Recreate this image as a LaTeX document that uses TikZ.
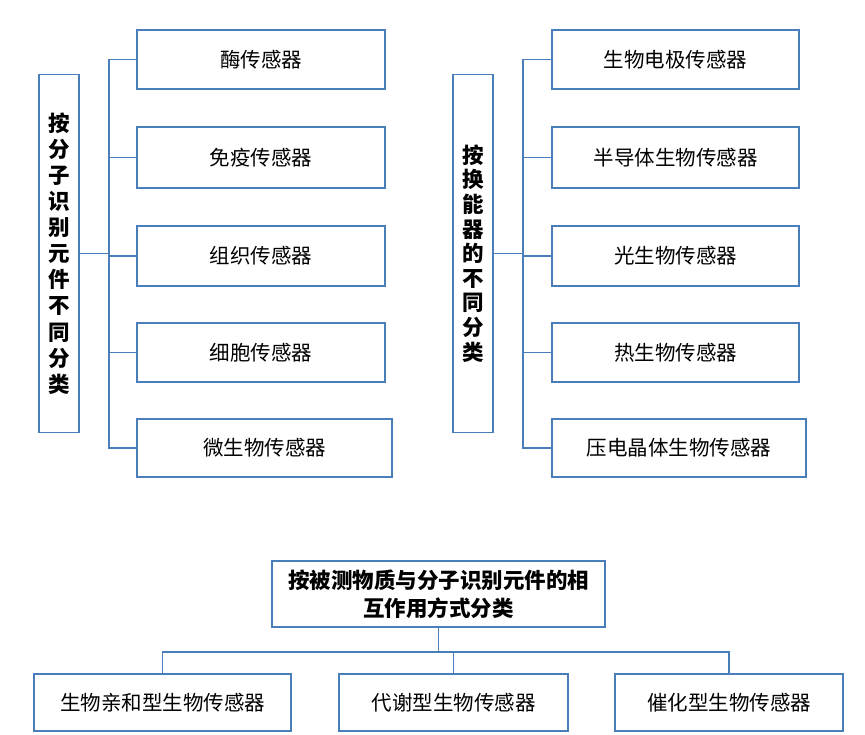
\documentclass[tikz,border=0pt]{standalone}
\usepackage{fontspec}
\setmainfont{Noto Sans CJK SC}
\definecolor{boxblue}{RGB}{74,126,187}
\tikzset{
  bx/.style={draw=boxblue, line width=1.5pt, fill=white, inner sep=0pt, minimum width=#1, anchor=center},
  child/.style={bx=248pt, minimum height=59pt, font=\fontsize{20.5}{24}\selectfont},
  cat/.style={bx=40pt, minimum height=358pt, align=center, font=\fontsize{21.5}{26.1}\selectfont\bfseries},
  conn/.style={draw=boxblue, line width=1.9pt}
}
\begin{document}
\begin{tikzpicture}[x=1pt,y=-1pt]
\useasboundingbox (0,0) rectangle (865,735);
% left group
\node[cat] (L) at (59,253.5) {按\\分\\子\\识\\别\\元\\件\\不\\同\\分\\类};
\node[child] (l1) at (261,59.5) {酶传感器};
\node[child, minimum height=61pt] (l2) at (261,157.5) {免疫传感器};
\node[child, minimum height=60pt] (l3) at (261,256) {组织传感器};
\node[child] (l4) at (261,352.5) {细胞传感器};
\node[child, minimum width=255pt, minimum height=58pt] (l5) at (264.5,448) {微生物传感器};
\coordinate (lb) at (109,253.5);
\draw[conn] (L.east) -- (lb);
\foreach \c in {l1,l2,l3,l4,l5} \draw[conn] (lb) |- (\c.west);
% right group
\node[cat, font=\fontsize{21.5}{24.6}\selectfont\bfseries] (R) at (473,253.5) {按\\换\\能\\器\\的\\不\\同\\分\\类};
\node[child, minimum width=247pt] (r1) at (675.5,59.5) {生物电极传感器};
\node[child, minimum width=247pt, minimum height=61pt] (r2) at (675.5,157.5) {半导体生物传感器};
\node[child, minimum width=247pt, minimum height=60pt] (r3) at (675.5,256) {光生物传感器};
\node[child, minimum width=247pt] (r4) at (675.5,352.5) {热生物传感器};
\node[child, minimum width=254pt, minimum height=58pt] (r5) at (679,448) {压电晶体生物传感器};
\coordinate (rb) at (523,253.5);
\draw[conn] (R.east) -- (rb);
\foreach \c in {r1,r2,r3,r4,r5} \draw[conn] (rb) |- (\c.west);
% bottom group
\node[bx=333pt, minimum height=66pt, align=center, font=\fontsize{21.5}{28}\selectfont\bfseries] (T) at (438.5,594) {按被测物质与分子识别元件的相\\互作用方式分类};
\node[child, minimum width=257pt, minimum height=57pt] (b1) at (162.5,702.5) {生物亲和型生物传感器};
\node[child, minimum width=229pt, minimum height=57pt] (b2) at (453.5,702.5) {代谢型生物传感器};
\node[child, minimum width=228pt, minimum height=57pt] (b3) at (729,702.5) {催化型生物传感器};
\coordinate (hb) at (438.5,652);
\draw[conn] (T.south) -- (hb);
\draw[conn] (b1.north) |- (hb);
\draw[conn] (b3.north) |- (hb);
\draw[conn] (b2.north) -- (b2.north |- hb);
\end{tikzpicture}
\end{document}
